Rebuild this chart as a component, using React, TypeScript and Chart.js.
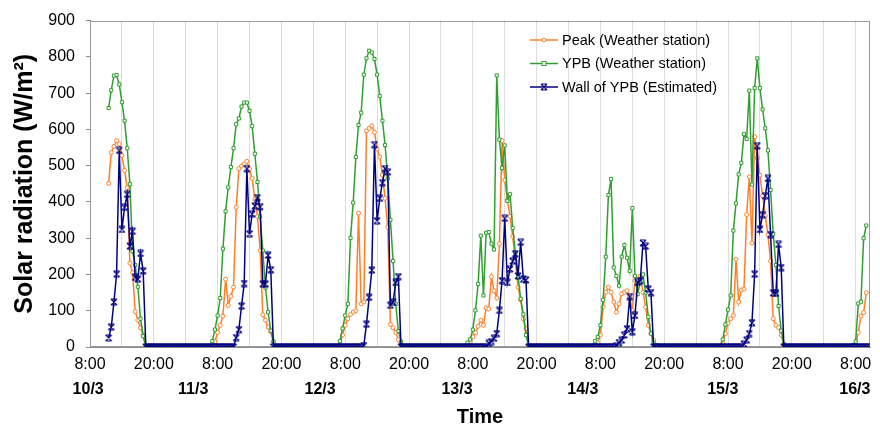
import { useEffect, useRef } from 'react';
import { Chart, registerables } from 'chart.js';

Chart.register(...registerables);

// Time is counted in hours from 10/3 00:00; readings every 30 minutes.
const STEP_HOURS = 0.5;
const firstHour = 11.5;
const stationLastHour = 154;
const wallLastHour = 154.5;
const axisMinHour = 8;
const axisMaxHour = 154.7;

// Start hour of each day's daylight run (outside these runs the readings are 0).
const dayStartHours = [11.5, 31, 55, 79, 103, 127, 151];

// Peak (Weather station), W/m²
const peakDay1 = [451, 536, 553, 569, 560, 528, 487, 439, 231, 205, 98, 74, 53, 33, 0];
const peakDay2 = [5, 15, 40, 60, 85, 187, 115, 140, 165, 385, 492, 499, 505, 512, 490, 465, 407, 360, 266, 89, 74, 55, 42, 15];
const peakDay3 = [5, 33, 60, 78, 90, 96, 100, 369, 119, 124, 596, 603, 610, 592, 546, 524, 474, 410, 330, 62, 53, 40, 20, 0];
const peakDay4 = [5, 15, 28, 39, 57, 74, 60, 108, 105, 194, 155, 135, 285, 569, 460, 405, 360, 305, 237, 165, 130, 78, 51, 5];
const peakDay5 = [5, 12, 33, 110, 151, 165, 151, 124, 96, 119, 147, 151, 155, 137, 101, 183, 187, 196, 151, 110, 60, 37, 19, 3];
const peakDay6 = [10, 37, 65, 78, 87, 242, 124, 157, 160, 365, 469, 287, 580, 521, 474, 417, 362, 310, 237, 78, 60, 54, 33, 5, 0];
const peakDay7 = [0, 0, 5, 40, 85, 95, 150];

// YPB (Weather station), W/m²
const ypbDay1 = [659, 708, 748, 750, 724, 675, 624, 548, 449, 264, 226, 166, 78, 30, 0];
const ypbDay2 = [16, 48, 87, 135, 271, 374, 440, 496, 548, 614, 630, 663, 674, 674, 651, 609, 533, 455, 360, 266, 164, 96, 45, 15];
const ypbDay3 = [16, 51, 87, 119, 301, 398, 524, 612, 646, 751, 796, 817, 812, 794, 751, 692, 624, 557, 465, 351, 237, 119, 44, 15];
const ypbDay4 = [12, 21, 48, 101, 174, 307, 142, 315, 317, 285, 269, 749, 572, 494, 556, 403, 421, 328, 260, 194, 133, 90, 33, 0];
const ypbDay5 = [16, 28, 60, 130, 249, 419, 463, 219, 196, 169, 249, 281, 246, 210, 383, 196, 146, 180, 200, 150, 83, 37, 12, 5];
const ypbDay6 = [21, 62, 103, 142, 321, 396, 476, 508, 587, 574, 707, 448, 714, 796, 714, 655, 603, 542, 433, 312, 226, 113, 45, 8, 0];
const ypbDay7 = [0, 5, 15, 120, 125, 300, 335];

// Wall of YPB (Estimated), W/m²
const wallDay1 = [25, 55, 124, 201, 542, 324, 385, 421, 278, 319, 192, 187, 258, 210, 0];
const wallDay2 = [0, 0, 0, 0, 0, 0, 0, 0, 0, 26, 48, 113, 175, 492, 312, 367, 389, 412, 387, 174, 174, 253, 213, 0];
const wallDay3 = [0, 0, 0, 0, 0, 0, 0, 0, 0, 4, 63, 137, 212, 558, 348, 410, 453, 492, 483, 115, 124, 178, 194, 0];
const wallDay4 = [0, 0, 0, 0, 0, 0, 0, 0, 10, 15, 24, 37, 101, 183, 355, 178, 215, 237, 257, 196, 289, 187, 185, 0];
const wallDay5 = [0, 0, 0, 0, 0, 0, 0, 0, 3, 12, 19, 33, 50, 139, 42, 87, 178, 183, 287, 278, 160, 150, 0, 0];
const wallDay6 = [0, 0, 0, 0, 0, 0, 0, 0, 8, 19, 37, 67, 201, 555, 324, 365, 417, 465, 310, 149, 148, 283, 219, 0, 0];
const wallDay7 = [0, 0, 0, 0, 0, 0, 0];

const seriesLabels = ['Peak (Weather station)', 'YPB (Weather station)', 'Wall of YPB (Estimated)'];

// Axis ticks
const gridStepHours = 6;
const gridFirstHour = 8;
const gridLastHour = 152;
const timeTickHourOfDay = [8, 20];
const timeTickLabels = ['8:00', '20:00'];
const dateLabels = ['10/3', '11/3', '12/3', '13/3', '14/3', '15/3', '16/3'];
const dateLabelHours = [7.66, 27.4, 51.27, 77.02, 100.7, 127.0, 151.85];

const FONT = '"Liberation Sans", Arial, Helvetica, sans-serif';
const ORANGE = '#FF7F27';
const GREEN = '#2F9F2F';
const NAVY = '#000080';

function buildSeries(days: number[][], lastHour: number) {
  const pts: { x: number; y: number }[] = [];
  for (let k = 0; firstHour + k * STEP_HOURS <= lastHour + 1e-9; k++) {
    const h = firstHour + k * STEP_HOURS;
    let v = 0;
    for (let d = 0; d < days.length; d++) {
      const idx = Math.round((h - dayStartHours[d]) / STEP_HOURS);
      if (idx >= 0 && idx < days[d].length) {
        v = days[d][idx];
        break;
      }
    }
    pts.push({ x: h, y: v });
  }
  return pts;
}

function makeWallMarker(color: string) {
  const c = document.createElement('canvas');
  c.width = 8;
  c.height = 8;
  const ctx = c.getContext('2d')!;
  ctx.strokeStyle = color;
  ctx.lineWidth = 1.2;
  ctx.beginPath();
  ctx.moveTo(1, 1);
  ctx.lineTo(7, 7);
  ctx.moveTo(7, 1);
  ctx.lineTo(1, 7);
  ctx.moveTo(1.5, 1);
  ctx.lineTo(6.5, 1);
  ctx.moveTo(1.5, 7);
  ctx.lineTo(6.5, 7);
  ctx.stroke();
  return c;
}

export default function App() {
  const ref = useRef<HTMLCanvasElement | null>(null);

  useEffect(() => {
    if (!ref.current) return;
    const wallMarker = makeWallMarker(NAVY);

    const gridHours: number[] = [];
    for (let h = gridFirstHour; h <= gridLastHour; h += gridStepHours) gridHours.push(h);

    const frameBox = {
      id: 'frameBox',
      beforeDatasetsDraw(chart: any) {
        const { ctx, chartArea: a } = chart;
        ctx.save();
        ctx.strokeStyle = '#9a9a9a';
        ctx.lineWidth = 1;
        ctx.strokeRect(Math.round(a.left) + 0.5, Math.round(a.top) + 0.5, Math.round(a.right - a.left) - 1, Math.round(a.bottom - a.top) - 1);
        ctx.restore();
      },
    };

    const insideLegend = {
      id: 'insideLegend',
      afterDraw(chart: any) {
        const { ctx } = chart;
        const rows = [40, 63.5, 87];
        const x0 = 530;
        const x1 = 558;
        const xm = (x0 + x1) / 2;
        ctx.save();
        chart.data.datasets.forEach((ds: any, i: number) => {
          const y = rows[i];
          ctx.strokeStyle = ds.borderColor;
          ctx.lineWidth = 1.5;
          ctx.beginPath();
          ctx.moveTo(x0, y);
          ctx.lineTo(x1, y);
          ctx.stroke();
          ctx.lineWidth = 1;
          if (i === 0) {
            ctx.fillStyle = '#fff';
            ctx.beginPath();
            ctx.arc(xm, y, 2, 0, Math.PI * 2);
            ctx.fill();
            ctx.stroke();
          } else if (i === 1) {
            ctx.fillStyle = '#fff';
            ctx.fillRect(xm - 2, y - 2, 4, 4);
            ctx.strokeRect(xm - 2, y - 2, 4, 4);
          } else {
            ctx.drawImage(wallMarker, xm - 4, y - 4);
          }
          ctx.fillStyle = '#000';
          ctx.font = `14.5px ${FONT}`;
          ctx.textBaseline = 'middle';
          ctx.textAlign = 'left';
          ctx.fillText(ds.label, x1 + 4, y + 0.5);
        });
        ctx.restore();
      },
    };

    const chart = new Chart(ref.current, {
      type: 'line',
      data: {
        datasets: [
          {
            label: seriesLabels[0],
            data: buildSeries([peakDay1, peakDay2, peakDay3, peakDay4, peakDay5, peakDay6, peakDay7], stationLastHour),
            borderColor: ORANGE,
            backgroundColor: ORANGE,
            borderWidth: 1.5,
            pointStyle: 'circle',
            pointRadius: 2,
            pointBorderWidth: 1,
            pointBorderColor: ORANGE,
            pointBackgroundColor: '#fff',
            order: 3,
            xAxisID: 'x',
          },
          {
            label: seriesLabels[1],
            data: buildSeries([ypbDay1, ypbDay2, ypbDay3, ypbDay4, ypbDay5, ypbDay6, ypbDay7], stationLastHour),
            borderColor: GREEN,
            backgroundColor: GREEN,
            borderWidth: 1.5,
            pointStyle: 'rect',
            pointRadius: 2.2,
            pointBorderWidth: 1,
            pointBorderColor: GREEN,
            pointBackgroundColor: '#fff',
            order: 2,
            xAxisID: 'x',
          },
          {
            label: seriesLabels[2],
            data: buildSeries([wallDay1, wallDay2, wallDay3, wallDay4, wallDay5, wallDay6, wallDay7], wallLastHour),
            borderColor: NAVY,
            backgroundColor: NAVY,
            borderWidth: 1.5,
            pointStyle: wallMarker as any,
            pointRadius: 3,
            order: 1,
            xAxisID: 'x',
          },
        ],
      },
      options: {
        animation: false,
        responsive: false,
        devicePixelRatio: 1,
        layout: { padding: { left: 0, right: 10, top: 17, bottom: 0 } },
        plugins: {
          legend: { display: false },
          tooltip: { enabled: false },
        },
        elements: { line: { tension: 0 } },
        scales: {
          x: {
            type: 'linear',
            position: 'bottom',
            min: axisMinHour,
            max: axisMaxHour,
            afterBuildTicks: (s: any) => {
              s.ticks = gridHours.map((v) => ({ value: v }));
            },
            ticks: {
              autoSkip: false,
              maxRotation: 0,
              minRotation: 0,
              padding: 8,
              color: '#000',
              font: { family: FONT, size: 16 },
              callback: (v: any) => {
                const hod = ((Number(v) % 24) + 24) % 24;
                const idx = timeTickHourOfDay.indexOf(hod);
                return idx >= 0 ? timeTickLabels[idx] : '';
              },
            },
            grid: { color: '#dcdcdc', drawTicks: false, lineWidth: 1 },
            border: { color: '#8c8c8c' },
            afterFit: (s: any) => {
              s.height = 30;
            },
          },
          x2: {
            type: 'linear',
            position: 'bottom',
            min: axisMinHour,
            max: axisMaxHour,
            afterBuildTicks: (s: any) => {
              s.ticks = dateLabelHours.map((v) => ({ value: v }));
            },
            ticks: {
              autoSkip: false,
              maxRotation: 0,
              minRotation: 0,
              padding: 3,
              color: '#000',
              font: { family: FONT, size: 16, weight: 'bold' },
              callback: (_v: any, i: number) => dateLabels[i],
            },
            grid: { display: false, drawTicks: false },
            border: { display: false },
            title: {
              display: true,
              text: 'Time',
              color: '#000',
              font: { family: FONT, size: 20, weight: 'bold' },
              padding: { top: 0, bottom: 3 },
            },
            afterFit: (s: any) => {
              s.height = 55;
            },
          },
          y: {
            min: 0,
            max: 900,
            ticks: {
              stepSize: 100,
              padding: 11,
              color: '#000',
              font: { family: FONT, size: 16 },
            },
            grid: { drawOnChartArea: false, drawTicks: true, tickLength: 4, color: '#8c8c8c' },
            border: { color: '#8c8c8c' },
            title: {
              display: true,
              text: 'Solar radiation (W/m²)',
              color: '#000',
              font: { family: FONT, size: 25, weight: 'bold' },
              padding: { top: 10, bottom: 0 },
            },
            afterFit: (s: any) => {
              s.width = 90;
            },
          },
        },
      },
      plugins: [frameBox, insideLegend],
    } as any);

    return () => chart.destroy();
  }, []);

  return (
    <div style={{ position: 'absolute', left: 0, top: 0, width: 880, height: 432, background: '#fff' }}>
      <canvas ref={ref} width={880} height={432} style={{ display: 'block', width: 880, height: 432 }} />
    </div>
  );
}
